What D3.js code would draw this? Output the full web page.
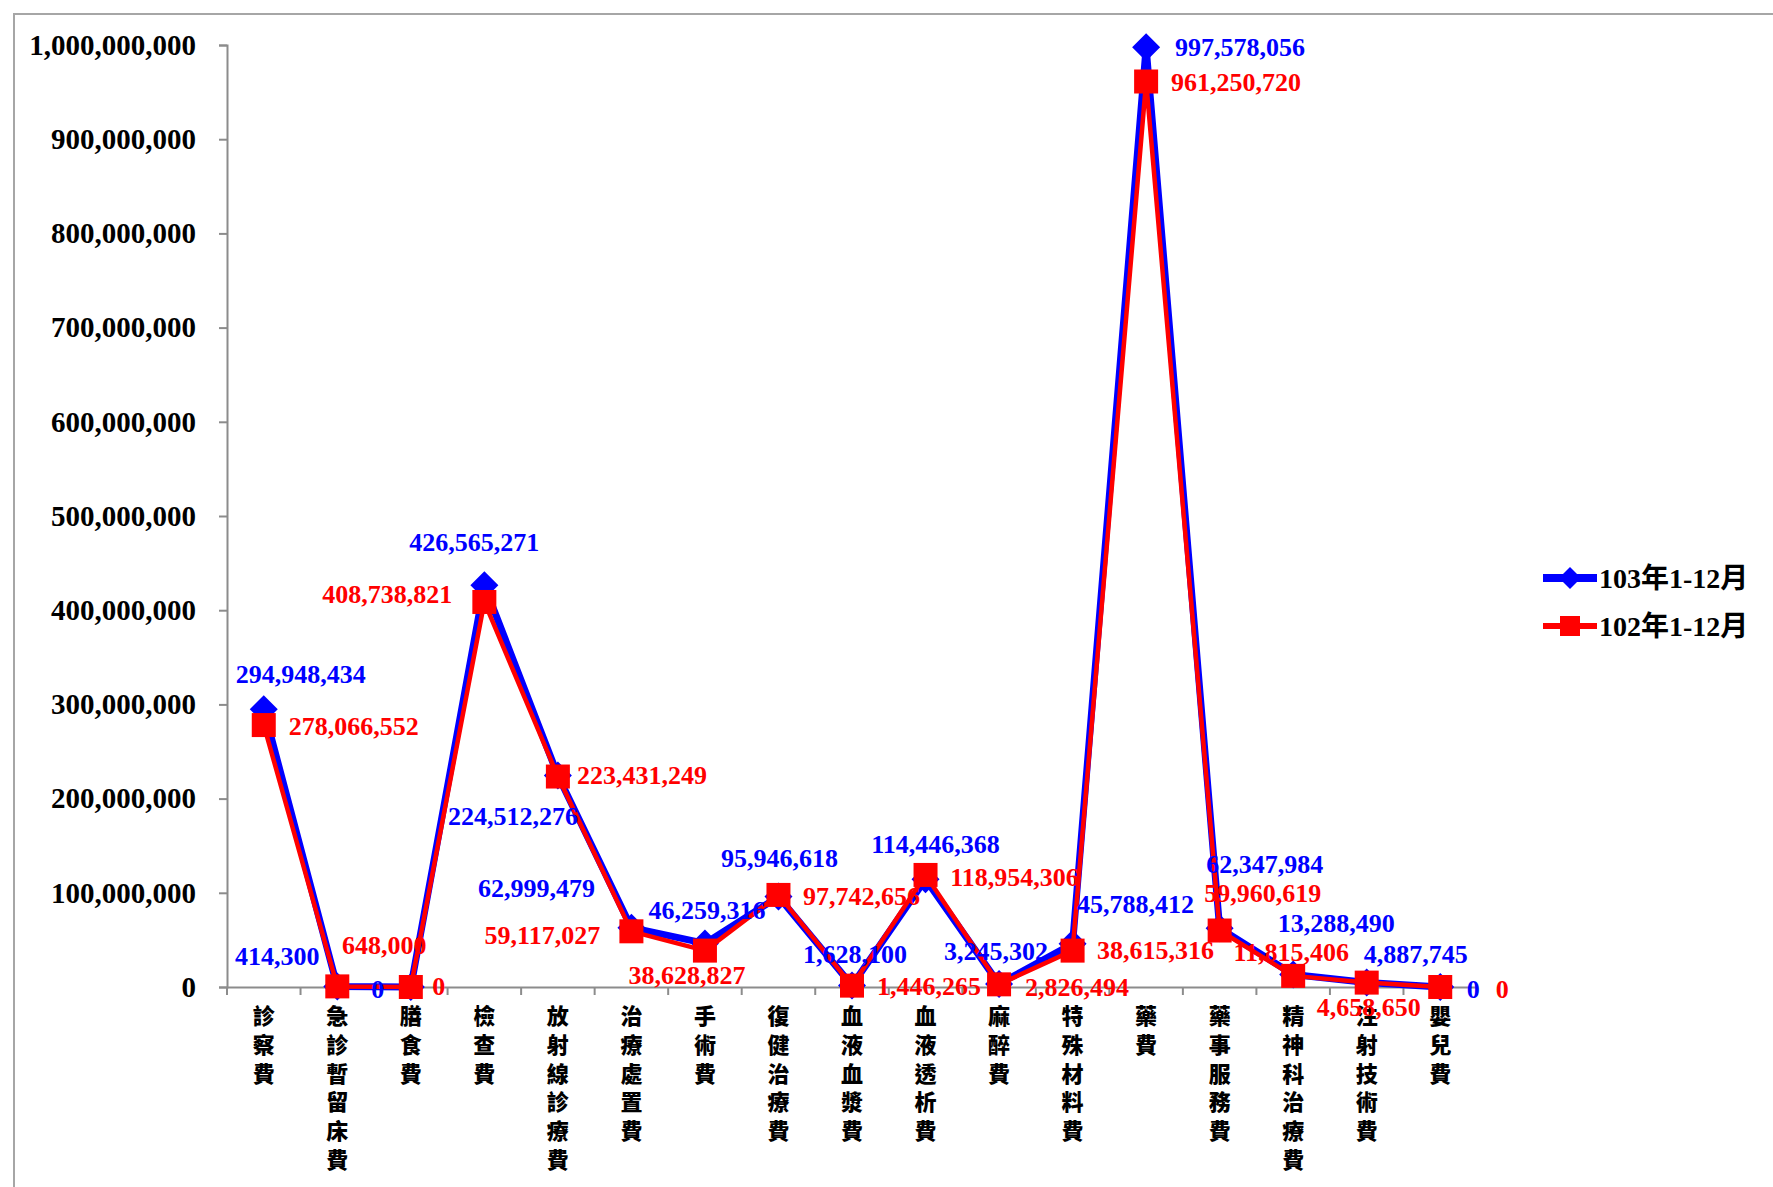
<!DOCTYPE html>
<html>
<head>
<meta charset="utf-8">
<script src="https://cdn.jsdelivr.net/npm/d3@7"></script>
<style>
  html, body { margin: 0; padding: 0; background: #fff; }
  svg { display: block; }
</style>
</head>
<body>
<svg id="chart" width="1773" height="1187"></svg>
<script>
// Expense categories (x axis)
const categories = ["診察費", "急診暫留床費", "膳食費", "檢查費", "放射線診療費", "治療處置費", "手術費",
  "復健治療費", "血液血漿費", "血液透析費", "麻醉費", "特殊材料費", "藥費", "藥事服務費",
  "精神科治療費", "注射技術費", "嬰兒費"];

// 103年1-12月
const values103 = [294948434, 414300, 0, 426565271, 224512276, 62999479, 46259316, 95946618,
  1628100, 114446368, 3245302, 45788412, 997578056, 62347984, 13288490, 4887745, 0];

// 102年1-12月
const values102 = [278066552, 648000, 0, 408738821, 223431249, 59117027, 38628827, 97742656,
  1446265, 118954306, 2826494, 38615316, 961250720, 59960619, 11815406, 4658650, 0];

const seriesNames = ["103年1-12月", "102年1-12月"];
const yTicks = [0, 100000000, 200000000, 300000000, 400000000, 500000000, 600000000,
  700000000, 800000000, 900000000, 1000000000];

// Data-label placement relative to each marker (dx, dy in px)
const labelOffset103 = [[37,-35],[-60,-30],[-33,2],[-10,-43],[-45,41],[-95,-39],[2,-33],[1,-38],
  [3,-31],[10,-35],[-3,-32],[63,-39],[94,0],[45,-64],[43,-51],[49,-28],[33,2]];
const labelOffset102 = [[90,1],[47,-41],[28,-1],[-97,-7],[84,-1],[-89,4],[-18,25],[83,2],
  [77,1],[89,3],[78,3],[83,0],[90,1],[43,-37],[-2,-23],[2,25],[62,2]];

const svg = d3.select("#chart");
const serif = "'Liberation Serif', 'Times New Roman', 'Noto Sans CJK TC', serif";
const cjk = "'Noto Sans CJK TC', 'Noto Sans CJK SC', sans-serif";

// outer frame
svg.append("rect").attr("x", 14).attr("y", 14).attr("width", 1800).attr("height", 1200)
  .attr("fill", "#fff").attr("stroke", "#a6a6a6").attr("stroke-width", 2);

const plot = { left: 227, right: 1477, top: 45, bottom: 987 };

const x = d3.scaleBand().domain(categories).range([plot.left, plot.right]).padding(0);
const y = d3.scaleLinear().domain([0, 1000000000]).range([plot.bottom, plot.top]);
const cx = c => x(c) + x.bandwidth() / 2;

// y axis
const yAxis = svg.append("g").attr("transform", `translate(${plot.left},0)`)
  .call(d3.axisLeft(y).tickValues(yTicks).tickFormat(d3.format(",")).tickSize(8).tickPadding(23));
yAxis.select(".domain").attr("stroke", "#8c8c8c").attr("stroke-width", 2);
yAxis.selectAll(".tick line").attr("stroke", "#8c8c8c").attr("stroke-width", 2);
yAxis.selectAll(".tick text").attr("font-family", serif).attr("font-weight", "bold")
  .attr("font-size", 29).attr("fill", "#000");

// x axis: baseline plus ticks on category boundaries
const xAxis = svg.append("g").attr("transform", `translate(0,${plot.bottom})`)
  .call(d3.axisBottom(x).tickSize(0).tickFormat(""));
xAxis.select(".domain").attr("stroke", "#8c8c8c").attr("stroke-width", 2);
svg.append("g").selectAll("line").data(d3.range(categories.length + 1)).join("line")
  .attr("x1", k => plot.left + k * x.step()).attr("x2", k => plot.left + k * x.step())
  .attr("y1", plot.bottom).attr("y2", plot.bottom + 8)
  .attr("stroke", "#8c8c8c").attr("stroke-width", 2);

// vertical category labels, one character per line
const catG = svg.append("g");
categories.forEach(c => {
  const t = catG.append("text").attr("font-family", cjk).attr("font-weight", 900)
    .attr("font-size", 22).attr("fill", "#000").attr("text-anchor", "middle");
  Array.from(c).forEach((ch, i) => {
    t.append("tspan").attr("x", cx(c)).attr("y", 1024 + i * 28.8).text(ch);
  });
});

const line = d3.line().x((d, i) => cx(categories[i])).y(d => y(d));

// 103 series: line + diamonds
svg.append("path").datum(values103).attr("d", line).attr("fill", "none")
  .attr("stroke", "#0000ff").attr("stroke-width", 7).attr("stroke-linejoin", "round");
svg.append("g").selectAll("path").data(values103).join("path")
  .attr("transform", (d, i) => `translate(${cx(categories[i])},${y(d)})`)
  .attr("d", "M0,-14L14,0L0,14L-14,0Z").attr("fill", "#0000ff");

// 102 series: line + squares
svg.append("path").datum(values102).attr("d", line).attr("fill", "none")
  .attr("stroke", "#ff0000").attr("stroke-width", 4.5).attr("stroke-linejoin", "round");
svg.append("g").selectAll("rect").data(values102).join("rect")
  .attr("x", (d, i) => cx(categories[i]) - 12).attr("y", d => y(d) - 12)
  .attr("width", 24).attr("height", 24).attr("fill", "#ff0000");

// data labels
const fmt = d3.format(",");
function labels(vals, offs, color) {
  svg.append("g").selectAll("text").data(vals).join("text")
    .attr("x", (d, i) => cx(categories[i]) + offs[i][0])
    .attr("y", (d, i) => y(d) + offs[i][1])
    .attr("text-anchor", "middle").attr("dominant-baseline", "central")
    .attr("font-family", serif).attr("font-weight", "bold").attr("font-size", 26)
    .attr("fill", color).text(d => fmt(d));
}
labels(values103, labelOffset103, "#0000ff");
labels(values102, labelOffset102, "#ff0000");

// legend
const legend = svg.append("g");
const legItems = [
  { name: seriesNames[0], color: "#0000ff", y: 578, w: 8, marker: "diamond" },
  { name: seriesNames[1], color: "#ff0000", y: 626, w: 6, marker: "square" }
];
legItems.forEach(it => {
  legend.append("line").attr("x1", 1543).attr("x2", 1597).attr("y1", it.y).attr("y2", it.y)
    .attr("stroke", it.color).attr("stroke-width", it.w);
  if (it.marker === "diamond") {
    legend.append("path").attr("transform", `translate(1570,${it.y})`)
      .attr("d", "M0,-11L11,0L0,11L-11,0Z").attr("fill", it.color);
  } else {
    legend.append("rect").attr("x", 1560).attr("y", it.y - 10).attr("width", 20).attr("height", 20)
      .attr("fill", it.color);
  }
  legend.append("text").attr("x", 1599).attr("y", it.y).attr("dominant-baseline", "central")
    .attr("font-family", serif).attr("font-weight", "bold").attr("font-size", 28)
    .attr("fill", "#000").text(it.name);
});
</script>
</body>
</html>
